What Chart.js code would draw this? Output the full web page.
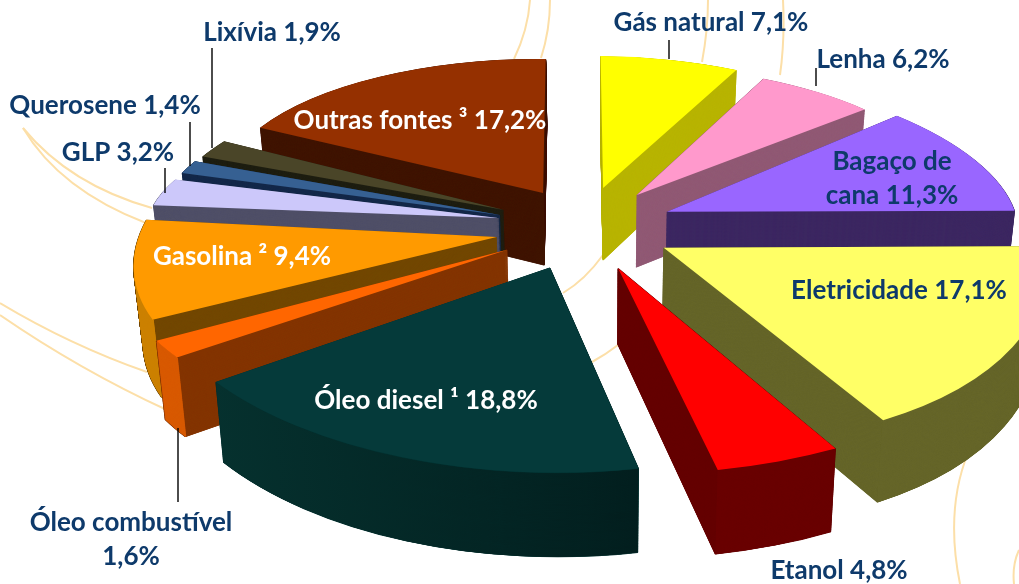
<!DOCTYPE html>
<html>
<head>
<meta charset="utf-8">
<title>Matriz energética</title>
<script src="https://cdn.jsdelivr.net/npm/chart.js@4"></script>
<style>
  html, body { margin: 0; padding: 0; background: #fff; overflow: hidden; }
  #wrap { width: 1019px; height: 584px; }
</style>
</head>
<body>
<div id="wrap"><canvas id="pieChart" width="1019" height="584"></canvas></div>
<script>
// Chart data, clockwise from the top
const categories = ["Gás natural", "Lenha", "Bagaço de cana", "Eletricidade", "Etanol", "Óleo diesel ¹",
    "Óleo combustível", "Gasolina ²", "GLP", "Querosene", "Lixívia", "Outras fontes ³"];
const shares = [7.1, 6.2, 11.3, 17.1, 4.8, 18.8, 1.6, 9.4, 3.2, 1.4, 1.9, 17.2];

// Colours of each slice: top face, cut faces, outer wall
const topColors = ["#ffff00", "#ff99cc", "#9966ff", "#ffff66", "#ff0000", "#053a3a",
    "#ff6600", "#ff9a00", "#ccc8fa", "#366092", "#4a4528", "#953000"];
const cutColors = ["#b8b400", "#915a75", "#3d2862", "#66662a", "#650000", "#03302f",
    "#843500", "#734800", "#505068", "#15294a", "#1f1f12", "#401500"];
const wallColors = ["#b8b400", "#915a75", "#3d2862", "#66662a", "#6a0000", "#032a2a",
    "#d85a00", "#cc8000", "#505068", "#15294a", "#1f1f12", "#401500"];

// Look of the tilted pie, slice by slice (the original has perspective)
const explodeX = [97, 93, 93, 97, 110, 80, 85, 85, 83, 85, 85, 74];
const explodeY = [38, 38, 37, 45, 46, 46, 48, 62, 35, 30, 35, 37];
const widthR = [314, 317, 348, 380, 423, 407, 398, 358, 351, 343, 340, 322];
const heightR = [132, 130, 146, 197, 206, 205, 193, 175, 130, 142, 141, 134];
const skew = [8, 17, 49, 41, 15, 7, 0, -60, -40, -33, -37, 3];
const drawOrder = [11, 10, 9, 8, 7, 6, 5, 0, 1, 2, 3, 4];

const baseRadius = 300;

// Text around the pie: x centre, y middle, white or navy
const labelX = [711, 883, 892, 899, 839, 426, 131, 242, 118, 105, 272, 420];
const labelY = [23, 60, 179, 291, 571, 401, 540, 257, 153, 106, 33, 121];
const labelWhite = [false, false, false, false, false, true, false, true, false, false, false, true];
const labelBreak = [false, false, true, false, false, false, true, false, false, false, false, false];

// Thin leader lines: x, y from, y to
const leaders = [[669, 40, 59], [816, 68, 86], [165, 168, 193], [190, 122, 166], [212, 48, 148], [178, 428, 502]];

// Faint decoration behind the chart
const curves = [
    [530, 0, 528, 30, 514, 59],
    [550, 0, 550, 30, 541, 58],
    [708, 0, 708, 30, 702, 62],
    [783, 0, 785, 40, 780, 75],
    [23, 128, 70, 185, 152, 208],
    [23, 128, 60, 190, 146, 223],
    [0, 303, 70, 345, 147, 372],
    [0, 315, 80, 370, 167, 410],
    [563, 293, 585, 280, 603, 255],
    [592, 362, 605, 355, 618, 345],
    [968, 453, 945, 510, 960, 584],
    [1019, 550, 1012, 565, 1014, 584]
];

function fmtLabel(i) {
    return categories[i] + " " + shares[i].toString().replace(".", ",") + "%";
}

// Put the context in the position of slice i; t=0 is the top face, t=1 the bottom one
function sliceTransform(ctx, arc, i, t) {
    const mid = (arc.startAngle + arc.endAngle) / 2;
    const ax = arc.x + Math.cos(mid) * explodeX[i];
    const ay = arc.y + Math.sin(mid) * explodeY[i];
    ctx.setTransform(1 - 0.02 * t, 0, 0, 1 + 0.043 * t, 600 * 0.02 * t, 64 * t);
    ctx.transform(widthR[i] / baseRadius, 0, skew[i] / baseRadius, heightR[i] / baseRadius, ax, ay);
    ctx.translate(-arc.x, -arc.y);
}

function drawFace(ctx, arc, color, edge) {
    const saved = arc.options;
    arc.options = Object.assign({}, saved, { backgroundColor: color, borderColor: color, borderWidth: edge });
    arc.draw(ctx);
    arc.options = saved;
}

const pie3d = {
    id: "pie3d",
    beforeDraw(chart) {
        const ctx = chart.ctx;
        ctx.save();
        ctx.strokeStyle = "#fcdfa8";
        ctx.lineWidth = 2;
        curves.forEach(c => {
            ctx.beginPath();
            ctx.moveTo(c[0], c[1]);
            ctx.quadraticCurveTo(c[2], c[3], c[4], c[5]);
            ctx.stroke();
        });
        ctx.restore();
    },
    beforeDatasetsDraw(chart) {
        const ctx = chart.ctx;
        const arcs = chart.getDatasetMeta(0).data;
        const steps = 200;
        ctx.save();
        drawOrder.forEach(i => {
            const arc = arcs[i];
            // body of the slice, bottom to top
            for (let s = steps; s > 0; s--) {
                sliceTransform(ctx, arc, i, s / steps);
                drawFace(ctx, arc, cutColors[i], 1);
            }
            // outer wall on top of the body, kept under the top face edge
            for (let s = steps; s >= 3; s--) {
                sliceTransform(ctx, arc, i, s / steps);
                ctx.beginPath();
                ctx.arc(arc.x, arc.y, arc.outerRadius - 0.5, arc.startAngle, arc.endAngle);
                if (i === 5) {
                    const grad = ctx.createLinearGradient(arc.x - baseRadius, 0, arc.x + baseRadius * 0.3, 0);
                    grad.addColorStop(0, "#063431");
                    grad.addColorStop(1, "#021b1b");
                    ctx.strokeStyle = grad;
                } else {
                    ctx.strokeStyle = wallColors[i];
                }
                ctx.lineWidth = 1;
                ctx.stroke();
            }
            sliceTransform(ctx, arc, i, 0);
            drawFace(ctx, arc, topColors[i], 0);
        });
        ctx.restore();
        return false; // slices are already painted
    },
    afterDraw(chart) {
        const ctx = chart.ctx;
        ctx.save();
        ctx.setTransform(1, 0, 0, 1, 0, 0);
        ctx.strokeStyle = "#000";
        ctx.lineWidth = 1.4;
        leaders.forEach(l => {
            ctx.beginPath();
            ctx.moveTo(l[0], l[1]);
            ctx.lineTo(l[0], l[2]);
            ctx.stroke();
        });
        ctx.font = "bold 26px Lato";
        ctx.textAlign = "center";
        ctx.textBaseline = "middle";
        categories.forEach((name, i) => {
            ctx.fillStyle = labelWhite[i] ? "#fff" : "#0e3a6b";
            const text = fmtLabel(i);
            if (labelBreak[i]) {
                // two line labels: split before the last word group
                const parts = i === 2 ? ["Bagaço de", "cana 11,3%"] : ["Óleo combustível", "1,6%"];
                ctx.fillText(parts[0], labelX[i], labelY[i] - 17);
                ctx.fillText(parts[1], labelX[i], labelY[i] + 17);
            } else {
                ctx.fillText(text, labelX[i], labelY[i]);
            }
        });
        ctx.restore();
    }
};

new Chart(document.getElementById("pieChart"), {
    type: "pie",
    data: {
        labels: categories,
        datasets: [{ data: shares, backgroundColor: topColors, borderWidth: 0 }]
    },
    options: {
        responsive: false,
        animation: false,
        rotation: 1,
        radius: baseRadius,
        layout: { padding: { left: 141, bottom: 134 } },
        plugins: { legend: { display: false }, tooltip: { enabled: false } }
    },
    plugins: [pie3d]
});
</script>
</body>
</html>
